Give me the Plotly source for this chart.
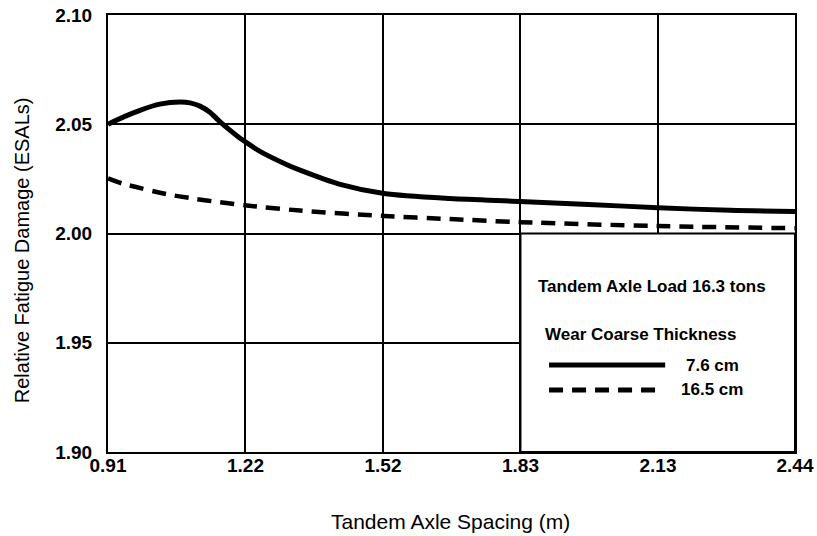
import plotly.graph_objects as go

# Data (tandem axle spacing in metres)
x_thin = [0.914, 0.950, 0.985, 1.029, 1.074, 1.096, 1.118, 1.140, 1.162, 1.185, 1.207, 1.222, 1.251, 1.311,
          1.340, 1.429, 1.526, 1.673, 1.828, 1.980, 2.134, 2.294, 2.438]
y_thin = [2.050, 2.0535, 2.0564, 2.0592, 2.0602, 2.0598, 2.0583, 2.0555, 2.0512, 2.0472, 2.0436, 2.0415, 2.0376, 2.0315,
          2.0290, 2.0225, 2.0183, 2.0160, 2.0147, 2.0133, 2.0118, 2.0106, 2.0101]

x_thick = [0.914, 0.947, 1.045, 1.103, 1.162, 1.222, 1.340, 1.526, 1.673, 1.828, 2.134, 2.438]
y_thick = [2.0252, 2.0228, 2.0180, 2.0160, 2.0143, 2.0128, 2.0105, 2.0080, 2.0066, 2.0052, 2.0034, 2.0024]

x_tickvals = [0.914, 1.219, 1.524, 1.829, 2.134, 2.438]
x_ticktext = ["0.91", "1.22", "1.52", "1.83", "2.13", "2.44"]
y_tickvals = [1.90, 1.95, 2.00, 2.05, 2.10]
y_ticktext = ["1.90", "1.95", "2.00", "2.05", "2.10"]

series_names = ["7.6 cm", "16.5 cm"]

FONT = "Liberation Sans, Arial, Helvetica, sans-serif"
NARROW = "Liberation Sans Narrow, Arial Narrow, Liberation Sans, sans-serif"

fig = go.Figure()
fig.add_trace(go.Scatter(x=x_thin, y=y_thin, mode="lines", name=series_names[0],
                         line=dict(color="black", width=5, shape="spline", smoothing=0.8),
                         showlegend=False))
fig.add_trace(go.Scatter(x=x_thick, y=y_thick, mode="lines", name=series_names[1],
                         line=dict(color="black", width=4.5, shape="spline", smoothing=0.8, dash="14px,9px"),
                         showlegend=False))

# white legend box covering lower-right grid cells
fig.add_shape(type="rect", xref="x", yref="y", x0=x_tickvals[3], x1=x_tickvals[5],
              y0=y_tickvals[0], y1=y_tickvals[2], fillcolor="white",
              line=dict(color="black", width=2), layer="above")

# legend samples
fig.add_shape(type="line", xref="paper", yref="paper", x0=0.642, x1=0.811, y0=0.199, y1=0.199,
              line=dict(color="black", width=5), layer="above")
fig.add_shape(type="line", xref="paper", yref="paper", x0=0.642, x1=0.808, y0=0.142, y1=0.142,
              line=dict(color="black", width=5, dash="14px,9px"), layer="above")

ann_font = dict(family=NARROW, size=17, color="black", weight="bold")
fig.add_annotation(xref="paper", yref="paper", x=0.792, y=0.378, text="Tandem Axle Load 16.3 tons",
                   showarrow=False, font=ann_font, xanchor="center", yanchor="middle")
fig.add_annotation(xref="paper", yref="paper", x=0.776, y=0.268, text="Wear Coarse Thickness",
                   showarrow=False, font=ann_font, xanchor="center", yanchor="middle")
fig.add_annotation(xref="paper", yref="paper", x=0.838, y=0.199, text=series_names[0],
                   showarrow=False, font=ann_font, xanchor="left", yanchor="middle")
fig.add_annotation(xref="paper", yref="paper", x=0.831, y=0.142, text=series_names[1],
                   showarrow=False, font=ann_font, xanchor="left", yanchor="middle")

# axis titles
fig.add_annotation(xref="paper", yref="paper", x=0.499, y=-0.158, text="Tandem Axle Spacing (m)",
                   showarrow=False, font=dict(family=FONT, size=21, color="black"),
                   xanchor="center", yanchor="middle")
fig.add_annotation(xref="paper", yref="paper", x=-0.125, y=0.462, text="Relative Fatigue Damage (ESALs)",
                   showarrow=False, font=dict(family=FONT, size=20, color="black"), textangle=-90,
                   xanchor="center", yanchor="middle")

axis_common = dict(showgrid=True, gridcolor="black", gridwidth=2, showline=True, linecolor="black",
                   linewidth=2, mirror=True, ticks="", zeroline=False, automargin=False,
                   ticklabeloverflow="allow",
                   tickfont=dict(family=FONT, size=19, color="black", weight="bold"))

fig.update_xaxes(range=[x_tickvals[0], x_tickvals[-1]], tickmode="array", tickvals=x_tickvals,
                 ticktext=x_ticktext, ticklabelstandoff=-5, **axis_common)
fig.update_yaxes(range=[y_tickvals[0], y_tickvals[-1]], tickmode="array", tickvals=y_tickvals,
                 ticktext=y_ticktext, ticklabelstandoff=10, **axis_common)

fig.update_layout(width=817, height=536, margin=dict(l=108, r=22, t=15, b=84),
                  paper_bgcolor="white", plot_bgcolor="white", showlegend=False)

# remove the default 8px page margin so the figure fills the window exactly
fig.write_html("out.html", config={"displayModeBar": False},
               post_script="document.body.style.margin='0px';")
